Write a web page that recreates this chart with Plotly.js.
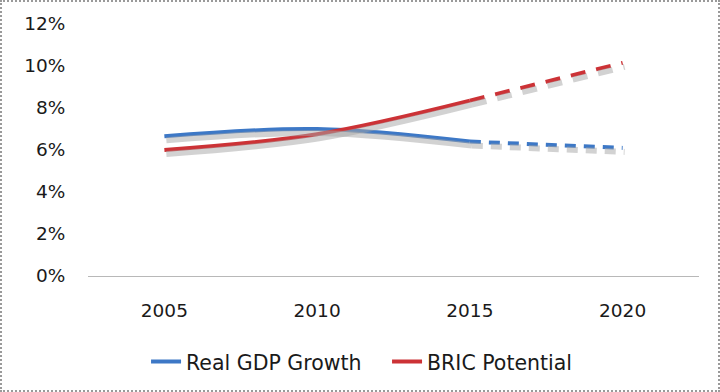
<!DOCTYPE html>
<html>
<head>
<meta charset="utf-8">
<script src="https://cdn.plot.ly/plotly-3.0.1.min.js"></script>
<style>
  html, body { margin: 0; padding: 0; background: #fff; }
  #frame { position: absolute; left: 0; top: 0; width: 716px; height: 388px; border: 2px dotted #9a9a9a; }
  #chart { position: absolute; left: 0; top: 0; width: 720px; height: 392px; }
</style>
</head>
<body>
<div id="chart"></div>
<div id="frame"></div>
<script>
// Data
const years = ['2005', '2010', '2015', '2020'];
const realGdpGrowth = [6.65, 7.0, 6.4, 6.1];
const bricPotential = [6.0, 6.75, 8.35, 10.15];
const yTickVals = [0, 2, 4, 6, 8, 10, 12];
const yTickText = ['0%', '2%', '4%', '6%', '8%', '10%', '12%'];
const seriesNames = ['Real GDP Growth', 'BRIC Potential'];

const blue = '#3d78c6';
const red = '#cc3236';
const shadow = 'rgba(165,165,165,0.5)';

// solid part (up to 2015) and dashed projection (2015 to 2020)
const solidX = years.slice(0, 3);
const dashX = years.slice(2);

function seg(x, y, color, dash, name, show, shadowTrace) {
  return {
    type: 'scatter', mode: 'lines', x: x, y: y, name: name,
    showlegend: show, hoverinfo: 'skip',
    xaxis: shadowTrace ? 'x2' : 'x', yaxis: shadowTrace ? 'y2' : 'y',
    line: { color: color, width: shadowTrace ? 6 : 4, dash: dash, shape: 'spline', smoothing: 1 }
  };
}

const traces = [
  // shadows
  seg(solidX, realGdpGrowth.slice(0, 3), shadow, 'solid', '', false, true),
  seg(dashX, realGdpGrowth.slice(2), shadow, '11px,8px', '', false, true),
  seg(solidX, bricPotential.slice(0, 3), shadow, 'solid', '', false, true),
  seg(dashX, bricPotential.slice(2), shadow, '15px,11px', '', false, true),
  // lines
  seg(solidX, realGdpGrowth.slice(0, 3), blue, 'solid', seriesNames[0], true, false),
  seg(dashX, realGdpGrowth.slice(2), blue, '11px,8px', seriesNames[0], false, false),
  seg(solidX, bricPotential.slice(0, 3), red, 'solid', seriesNames[1], true, false),
  seg(dashX, bricPotential.slice(2), red, '15px,11px', seriesNames[1], false, false)
];

const font = { family: '"DejaVu Sans", sans-serif', size: 18.5, color: '#1a1a1a' };
const legendFont = { family: '"DejaVu Sans", sans-serif', size: 20.5, color: '#1a1a1a' };

const layout = {
  width: 720, height: 392,
  margin: { l: 88, r: 21, t: 24, b: 115 },
  paper_bgcolor: '#fff', plot_bgcolor: '#fff',
  font: font,
  showlegend: true,
  legend: {
    orientation: 'h', x: 0.095, xanchor: 'left', y: -0.335, yanchor: 'middle',
    font: legendFont, itemwidth: 30, tracegroupgap: 0,
    entrywidth: 196, entrywidthmode: 'pixels'
  },
  xaxis: {
    type: 'category', range: [-0.5, 3.5],
    showgrid: false, zeroline: false,
    showline: true, linecolor: '#b8b8b8', linewidth: 1,
    ticks: 'outside', ticklen: 18, tickcolor: 'rgba(0,0,0,0)',
    tickfont: font, fixedrange: true
  },
  xaxis2: {
    type: 'category', range: [-0.513, 3.487], overlaying: 'x',
    visible: false, fixedrange: true
  },
  yaxis: {
    range: [0, 12], tickvals: yTickVals, ticktext: yTickText,
    showgrid: false, zeroline: false, showline: false,
    ticks: 'outside', ticklen: 18, tickcolor: 'rgba(0,0,0,0)',
    tickfont: font, fixedrange: true
  },
  yaxis2: {
    range: [0.19, 12.19], overlaying: 'y', visible: false, fixedrange: true
  }
};

Plotly.newPlot('chart', traces, layout, { staticPlot: true, displayModeBar: false });
</script>
</body>
</html>
